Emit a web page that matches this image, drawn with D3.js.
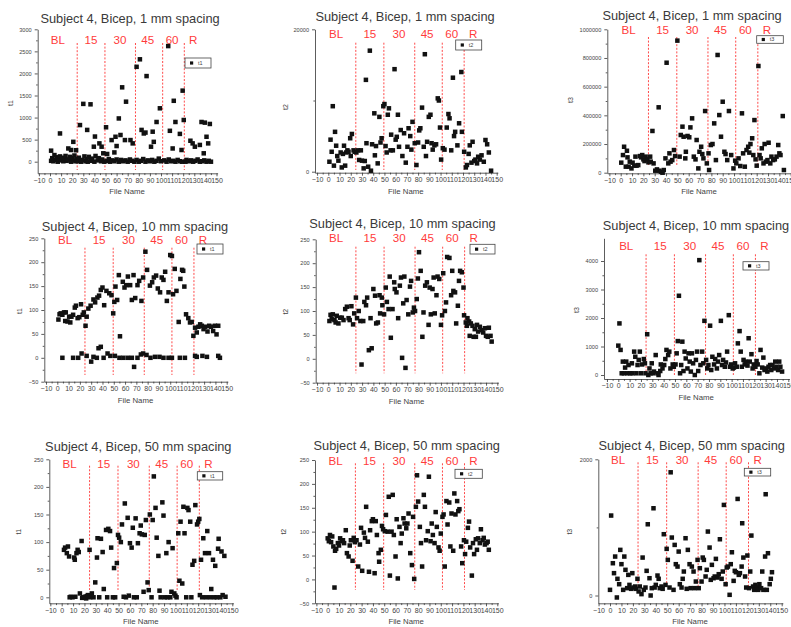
<!DOCTYPE html>
<html>
<head>
<meta charset="utf-8">
<script src="https://cdn.jsdelivr.net/npm/d3@7"></script>
<style>
  html, body { margin: 0; padding: 0; background: #fff; }
  svg { display: block; font-family: "Liberation Sans", Arial, sans-serif; }
</style>
</head>
<body>
<svg id="chart" width="791" height="627"></svg>
<script>
// Subject 4, bicep - t1 / t2 / t3 per file, for three electrode spacings
const spacings = ['1 mm', '10 mm', '50 mm'];
const measures = ['t1', 't2', 't3'];
const phaseNames = ['BL', '15', '30', '45', '60', 'R'];
const phaseCentres = [7, 37, 63, 88, 110, 129];
const phaseBounds = [24.5, 49.5, 77, 101.5, 121];
const xTicks = [-10, 0, 10, 20, 30, 40, 50, 60, 70, 80, 90, 100, 110, 120, 130, 140, 150];

const yTicks1mmT1 = [0, 500, 1000, 1500, 2000, 2500, 3000];
const yTicks1mmT2 = [0, 20000];
const yTicks1mmT3 = [0, 200000, 400000, 600000, 800000, 1000000];
const yTicks10mmT1 = [-50, 0, 50, 100, 150, 200, 250];
const yTicks10mmT2 = [-50, 0, 50, 100, 150, 200, 250];
const yTicks10mmT3 = [0, 1000, 2000, 3000, 4000];
const yTicks50mmT1 = [0, 50, 100, 150, 200, 250];
const yTicks50mmT2 = [-50, 0, 50, 100, 150, 200, 250];
const yTicks50mmT3 = [0, 2000];

// [file number, value]
const t1_1mm = [[1,20],[1,250],[2,80],[3,10],[4,150],[5,40],[6,100],[7,0],[8,60],[9,640],[9,120],[10,30],[11,90],[12,10],[13,70],[14,130],[15,20],[16,50],[16.5,300],[18,110],[19,265],[19,0],[20,80],[21,450],[21,30],[22,140],[23,10],[23.5,260],[24,60],
  [25,10],[26,90],[27,830],[28,0],[29,40],[30,1310],[31,120],[32,10],[33,60],[33.5,720],[34,0],[35,110],[36.5,1300],[37,20],[38,70],[39.5,340],[40,0],[40.5,570],[41,130],[43,30],[44,80],[44.5,415],[46,10],[46.5,340],[47,50],[48,190],[49,0],
  [50.5,780],[51,20],[51.5,175],[53,60],[54,0],[55.5,490],[56,30],[58,210],[58,10],[59,565],[60,355],[60,50],[62,980],[62,0],[63.5,605],[64,40],[65,1685],[66,10],[67.5,490],[68,30],[68.5,1360],[70,0],[72,50],[72.5,490],[74,20],[74.5,415],[76,0],
  [78,2150],[78,40],[80,0],[81,2320],[82,20],[82.5,720],[84,60],[84.5,640],[86,660],[86,0],[87,1940],[88,30],[90,10],[91,340],[92,40],[92.5,680],[93.5,450],[94,0],[96,900],[96,20],[98,70],[99,1210],[100,10],
  [103,30],[105,0],[106.5,2620],[107,50],[108,700],[109,10],[110.5,300],[111,20],[111.5,1380],[113,900],[113,0],[115,40],[117,630],[117,10],[118.5,265],[119,0],[119.5,1610],[120.5,945],
  [122,0],[123,40],[125,10],[126.5,475],[127,30],[128.5,415],[129,0],[130.5,340],[131,20],[133,50],[135,380],[135,0],[136.5,900],[137,10],[138.5,190],[139,30],[139.5,885],[141,565],[141,0],[142.5,415],[143,20],[144,855],[145,0]];

const t2_1mm = [[1,1400],[2,4500],[3,2800],[4,9200],[5,850],[6,5600],[7,3650],[8,2200],[9,1550],[11,2700],[12,600],[13,2500],[14,3650],[15,850],[16,2700],[17,3000],[18,2800],[19.5,4700],[20,2200],[21,5300],[22.5,3000],[23.5,2800],[25,2700],[26.5,3000],[27.5,1650],[29,3000],[30,1550],[31.5,470],[32.5,1500],[33.5,12900],[34,4000],[35.5,700],[37,17000],[38,140],[39,3850],[41,8200],[41.5,2300],[42.5,3600],[44,1170],[45.5,7700],[46.5,4100],[47.5,4700],[49,9200],[50,9500],
  [51,3600],[52,2700],[53,8000],[54,8900],[55.5,3000],[56,5200],[57.5,3000],[59,14400],[60,4500],[61,4900],[62,8000],[63,3500],[64.5,5850],[66,2200],[67.5,5400],[69,1270],[70.5,3500],[71.5,6100],[73,5000],[74,3100],[75,7000],[77,4000],
  [78.5,940],[80,4100],[81,5800],[82,6100],[83.5,9000],[85,3500],[86,16500],[87,2200],[88,4200],[89.5,7700],[91,8000],[92,4000],[93,3100],[94.5,3700],[96,3850],[97.5,10300],[98.5,10000],[99.5,6200],[100.5,1700],
  [102,3300],[103.5,3100],[105.5,6200],[107,8100],[108,7500],[109.5,3000],[111,13200],[112,5000],[113,5600],[115,3700],[116.5,6800],[118.5,14000],[119,5600],
  [121,2800],[122.5,600],[123.5,940],[125,2500],[126,3700],[127.5,1270],[128.5,4200],[130,1500],[131,1700],[132.5,1170],[133.5,2100],[135,1700],[136.5,2300],[138.5,1400],[140,4450],[141.5,3850],[143,2700],[145,140]];

const t3_1mm = [[0.5,70000],[2,123000],[3,181000],[4.5,42000],[5.5,153000],[6,107000],[7,42000],[8,77000],[9.5,30000],[10.5,70000],[12,49000],[13,112000],[14,49000],[15.5,53000],[17,116000],[18,107000],[19,123000],[20,93000],[21,81000],[22,112000],[23.5,93000],[24.5,72000],
  [26,112000],[26.5,77000],[28,291000],[29,65000],[30.5,14000],[32,23000],[33.5,456000],[34,14000],[35.5,7000],[37,0],[38,18600],[39.5,100000],[40.5,767000],[42,65000],[43,135000],[44,77000],[45.5,88000],[47,158000],[48,116000],
  [50,921000],[52,112000],[53,263000],[54.5,321000],[55.5,251000],[57,100000],[57.5,146000],[59,256000],[60.5,247000],[61.5,316000],[63,379000],[64.5,112000],[66,93000],[67,228000],[68.5,30000],[69.5,146000],[71,181000],[72,130000],[73,100000],[74.5,430000],[76,65000],
  [77.5,135000],[78,18600],[79.5,193000],[81,200000],[82.5,344000],[84,88000],[85.5,821000],[87,402000],[88.5,251000],[90,495000],[91.5,146000],[92.5,130000],[94,88000],[95.5,430000],[97.5,123000],[99.5,30000],[101,84000],
  [102,65000],[104,100000],[105.5,46500],[107,414000],[108,135000],[109.5,42000],[111,158000],[112.5,181000],[113.5,140000],[114.5,200000],[116,240000],[117,123000],[118,367000],[119,93000],[120,49000],
  [121.5,744000],[122.5,123000],[123.5,100000],[124.5,170000],[126,65000],[127,200000],[128,77000],[129.5,88000],[130.5,209000],[132,65000],[133,112000],[134.5,88000],[136,93000],[137.5,112000],[139,193000],[140,135000],[141,123000],[143,395000],[144,18600]];

const t1_10mm = [[1,80],[2,91],[3,93],[4.5,90],[4.5,0],[6,95],[7,77],[7.5,95],[9,76],[10.5,86],[11.5,74],[12.5,86],[14,90],[14,0],[15.5,105],[16.5,109],[18,83],[18.5,0],[19.5,85],[21,112],[21.5,9],[22.5,90],[23.5,95],[25,67],
  [26,86],[26,4],[27.5,103],[29.5,109],[30,-8],[32,122],[32,2],[33.5,116],[35,0],[35.5,126],[36.5,20],[37,130],[38.5,23],[38.5,142],[40,147],[41,0],[41.5,110],[43.5,140],[44.5,9],[46,135],[47,4],[48,131],[49.5,93],
  [50.5,117],[51,4],[51.5,149],[53,121],[54.5,173],[55,0],[55.5,45],[58,159],[58.5,0],[59.5,147],[61,152],[62.5,170],[62.5,0],[64.5,152],[66,121],[66,0],[67.5,173],[68,-19],[69,125],[71,152],[71,0],[72.5,161],[74,7],[74.5,119],[76,168],[76,9],
  [78,222],[79,6],[79.5,184],[82,151],[82.5,0],[84,158],[85.5,168],[86.5,2],[87.5,172],[89,145],[90.5,2],[91,137],[92.5,168],[94,163],[94,0],[95.5,180],[97,119],[98.5,137],[98.5,0],[100,215],
  [101.5,213],[101.5,0],[102.5,133],[104,186],[105.5,140],[107.5,75],[108.5,0],[109,165],[110.5,184],[111.5,182],[112.5,149],[113,0],[114,91],[116,83],[117.5,74],[119,75],
  [120.5,46],[122,63],[122,4],[123.5,53],[123.5,2],[125,65],[126.5,70],[128,67],[128.5,4],[129.5,60],[131,65],[132.5,2],[133,55],[134.5,67],[136,65],[138,56],[139.5,67],[141,49],[142.5,67],[142.5,4],[144,0]];

const t2_10mm = [[1,79],[2,92],[3,83],[4,93],[5.5,81],[6.5,76],[7.5,90],[9,74],[10.5,86],[12,86],[13.5,81],[15,104],[16.5,109],[18,85],[19,81],[20.5,110],[22,72],[23,95],[24.5,128],
  [25.5,85],[27,100],[28.5,79],[29.5,-12],[31,79],[32,119],[33.5,112],[34.5,128],[36,18],[37.5,85],[38.5,22],[40,146],[41.5,132],[42.5,74],[44,76],[45.5,133],[46,95],[47.5,128],[48,112],[49.5,93],
  [51,149],[52,119],[53.5,104],[54.5,172],[55.5,44],[57,104],[58.5,160],[59,146],[60.5,139],[62,85],[63.5,153],[64.5,170],[65.5,2],[66.5,116],[67.5,172],[68.5,-19],[69.5,123],[71,93],[72.5,151],[73.5,163],[75,97],[76,107],
  [77,100],[78.5,125],[79.5,168],[80.5,223],[82,184],[83.5,46],[84.5,97],[86,153],[87.5,160],[89,71],[90,149],[91,93],[92.5,146],[93.5,170],[94.5,95],[96,133],[97,172],[98.5,167],[100,71],[101,91],
  [102,179],[103.5,100],[104.5,118],[105.5,213],[107.5,211],[109,133],[110,184],[111,142],[112.5,139],[113.5,74],[115,111],[116,163],[117,184],[118.5,181],[120,149],
  [120.5,91],[122,76],[123,69],[123.5,85],[125,78],[125.5,48],[126.5,74],[128,69],[129,46],[130,62],[131,46],[132,71],[133,57],[134.5,67],[136,60],[137.5,55],[139,64],[140,48],[141.5,46],[142.5,65],[144,48],[145,36]];

const t3_10mm = [[0,1030],[1,1810],[2,880],[3,60],[4,470],[5,60],[6,260],[7,470],[8,60],[9,350],[10.5,60],[12,410],[12.5,60],[14,820],[15,640],[16,60],[17,350],[18,530],[19,820],[20,60],[21,370],[22.5,560],[23.5,410],[24,60],
  [25.5,1430],[26.5,0],[27.5,230],[28.5,60],[29.5,410],[30.5,60],[31.5,120],[33,700],[34.5,60],[35.5,0],[37,140],[37.5,370],[39,230],[40.5,350],[41.5,560],[42.5,880],[44,700],[45,820],[46,230],[48,370],[49,290],
  [50.5,370],[51.5,760],[52.5,1190],[53.5,2780],[54.5,60],[55.5,350],[56.5,1170],[57.5,140],[58.5,820],[59.5,580],[61,230],[62,760],[63,470],[64,120],[65,760],[66,410],[67.5,0],[68.5,530],[69.5,820],[70.5,140],[71.5,4030],[72.5,350],[74,820],[75,410],
  [76,1900],[77.5,530],[78.5,230],[79.5,350],[81,1730],[82,175],[83,640],[84.5,370],[85.5,560],[87,230],[88,470],[89,700],[90.5,1900],[91.5,350],[92.5,530],[94,290],[95,440],[96,820],[97.5,2100],[98.5,290],[99.5,370],
  [101,230],[102,260],[103,410],[104.5,290],[105.5,1110],[107,1540],[108,820],[109,290],[110.5,530],[111.5,370],[112.5,470],[114,330],[115,1290],[116,470],[117.5,730],[118.5,230],[119.5,370],
  [121,290],[122,490],[123,370],[124.5,60],[125.5,880],[127,260],[128,610],[129,175],[130.5,230],[131.5,120],[132.5,290],[134,350],[135,175],[136,350],[137.5,230],[138.5,470],[139.5,290],[141,175],[142,470],[143,290],[144.5,120]];

const t1_50mm = [[2,86],[3,90],[4.5,80],[5.5,92],[6.5,74],[7,0],[8,1],[9.5,0],[11,72],[11.5,68],[12,1],[13,80],[14,86],[15,82],[16,7],[17.5,102],[18,-1],[19,0],[20.5,1],[21.5,-2],[22,2],[23,4],[24.5,86],
  [25,0],[26.5,7],[28,0],[29.5,27],[31,72],[31.5,107],[33,0],[34.5,106],[36,82],[37,15],[39,122],[40,0],[41,124],[42.5,120],[43.5,90],[45,0],[46,53],[47,0],[48.5,62],[49.5,113],
  [50.5,108],[52,100],[53,132],[54.5,1],[55.5,170],[56.5,0],[58,144],[59,3],[60,98],[61.5,90],[62.5,126],[63.5,0],[65,143],[66,0],[67,98],[68.5,116],[69.5,130],[70.5,114],[72,10],[73,113],[74,140],[75.5,27],[76.5,13],
  [77.5,150],[79,0],[80,140],[81,219],[82.5,162],[83.5,108],[85,75],[86,12],[87,0],[88.5,172],[89.5,148],[90.5,0],[92,80],[93,0],[94,100],[95.5,0],[96.5,10],[97.5,89],[99,7],[100,3],[101,0],
  [102.5,116],[103.5,30],[104.5,137],[106,25],[107,164],[108,116],[109.5,0],[110.5,162],[111.5,158],[113,137],[114,0],[115,59],[116.5,66],[117.5,167],[119,132],[120,137],
  [121,142],[121.5,4],[122.5,68],[123.5,0],[124.5,107],[126,80],[127,0],[128,120],[129.5,80],[130.5,0],[131.5,15],[133,68],[134,0],[135,57],[136.5,0],[137.5,88],[138,106],[139.5,0],[140.5,83],[141.5,4],[143,75],[144,1]];

const t2_50mm = [[0,86],[1,80],[2,93],[3,78],[4,90],[5,69],[6,-17],[6.5,60],[7.5,64],[9,76],[10,71],[11,86],[12.5,80],[13.5,82],[14.5,76],[16,103],[17,55],[18.5,48],[19.5,71],[20.5,82],[22,39],[23,87],[24,78],
  [25.5,82],[27,27],[28.5,73],[29.5,108],[30.5,18],[32,98],[33,87],[34,152],[35.5,79],[36.5,16],[37.5,103],[39,122],[40,126],[41.5,13],[42.5,122],[43.5,93],[45,55],[45.5,37],[47,62],[48,112],[49,105],
  [50.5,101],[51.5,135],[53,100],[54,173],[55,8],[56.5,100],[57.5,177],[58.5,93],[60,48],[61,126],[62,2],[63.5,110],[64.5,76],[65.5,96],[67,128],[68,117],[69.5,107],[70.5,117],[71.5,138],[73,55],[74.5,30],[75.5,131],[76.5,1],
  [78,152],[79,218],[80,163],[81.5,110],[82.5,76],[83.5,27],[85,177],[86,152],[87,82],[88.5,101],[89.5,215],[91,80],[92,117],[93,93],[94.5,76],[95.5,141],[96.5,110],[98,67],[99,60],[100,96],
  [101.5,131],[102.5,136],[103.5,27],[105,164],[106,115],[107.5,161],[108.5,69],[109.5,138],[111,60],[112,180],[113,136],[114.5,164],[115.5,143],[116.5,147],[118,69],[119,34],
  [120.5,82],[121.5,53],[122.5,79],[124,108],[125,121],[126,67],[127.5,8],[128.5,76],[129.5,53],[131,84],[132,62],[133,86],[134.5,76],[135.5,105],[137,82],[138,87],[139,73],[140.5,76],[141.5,79],[142.5,62]];

const t3_50mm = [[0,83],[1,1174],[2.5,474],[3.5,328],[4.5,572],[6,-29],[6.5,245],[8,166],[9,670],[10,460],[11.5,83],[12.5,572],[13.5,377],[15,108],[16,303],[17,156],[18.5,98],[19.5,328],[20.5,117],[22,132],[22.5,98],[24,245],
  [25,59],[26,132],[27.5,20],[28.5,557],[29.5,83],[31,117],[32,362],[33,1046],[34.5,254],[35.5,0],[36.5,108],[38,1281],[39,117],[40,156],[41.5,293],[42.5,245],[43.5,108],[45,132],[46,98],[47,900],
  [48.5,156],[49.5,685],[50.5,523],[52,117],[53,1809],[54,851],[55.5,83],[56.5,743],[57.5,460],[59,425],[60,645],[61,166],[62.5,117],[63.5,245],[64.5,352],[66,841],[67,98],[68,670],[69.5,460],[70.5,108],[71.5,425],[73,352],[74,108],[75,205],
  [76.5,523],[77.5,108],[78.5,401],[80,205],[81,557],[82,523],[83.5,279],[84.5,377],[85.5,939],[87,704],[88,230],[89,450],[90.5,254],[91.5,279],[92.5,538],[94,264],[95,313],[96,826],[97.5,245],[98.5,352],
  [99.5,1330],[101,166],[102,411],[103,425],[104.5,10],[105.5,460],[106.5,635],[108,215],[109,362],[110,342],[111.5,1418],[112.5,303],[113.5,328],[115,425],[115.5,1061],[116.5,557],[118,279],[119,117],
  [120,587],[121.5,108],[122.5,352],[123.5,880],[125,132],[126,83],[127,156],[128.5,117],[129.5,83],[130.5,166],[132,108],[133,352],[134,83],[135.5,572],[136,1487],[137,83],[138,621],[139.5,166],[140.5,245],[141.5,342]];

const panels = [
  {data: t1_1mm,  ticks: yTicks1mmT1,  row: 0, col: 0, ox: 37.7,  x0: 50,    x150: 216.5, yA: [3000, 29.3],    yB: [0, 161.7],   top: 29.3,  bottom: 173.3, title: [130, 18.3],   phaseY: 40,    lines: [43, 170],      legend: [185, 58, 26, 10],      yLab: [10, 103]},
  {data: t2_1mm,  ticks: yTicks1mmT2,  row: 0, col: 1, ox: 315,   x0: 328.3, x150: 496.7, yA: [20000, 29.3],   yB: [0, 171.7],   top: 29.3,  bottom: 172.7, title: [405, 16.7],   phaseY: 33.3,  lines: [42.7, 170],    legend: [455.7, 40, 26, 10],    yLab: [285, 107]},
  {data: t3_1mm,  ticks: yTicks1mmT3,  row: 0, col: 2, ox: 607.3, x0: 620.7, x150: 790.7, yA: [1000000, 29.3], yB: [0, 172.7],   top: 29.3,  bottom: 173.3, title: [692, 15.5],   phaseY: 30,    lines: [37, 165],      legend: [756.7, 35.7, 26.6, 7.6], yLab: [570, 100]},
  {data: t1_10mm, ticks: yTicks10mmT1, row: 1, col: 0, ox: 44.3,  x0: 57.3,  x150: 226.7, yA: [250, 238.3],    yB: [-50, 381.7], top: 238.3, bottom: 381.7, title: [135, 226],    phaseY: 240,   lines: [247.7, 375],   legend: [197, 244, 26, 10],     yLab: [19, 311]},
  {data: t2_10mm, ticks: yTicks10mmT2, row: 1, col: 1, ox: 315.7, x0: 328.3, x150: 497.3, yA: [250, 239.3],    yB: [-50, 382.7], top: 239.3, bottom: 382.7, title: [402.5, 223.3], phaseY: 237.8, lines: [246.7, 373.3], legend: [470, 244.3, 25, 9.7],  yLab: [285.7, 311.7]},
  {data: t3_10mm, ticks: yTicks10mmT3, row: 1, col: 2, ox: 604,   x0: 618.3, x150: 788.3, yA: [4000, 261],     yB: [0, 375],     top: 238.3, bottom: 379,   title: [696, 225],    phaseY: 245.7, lines: [254.3, 375],   legend: [743, 261.7, 26, 8.3],  yLab: [576.7, 310]},
  {data: t1_50mm, ticks: yTicks50mmT1, row: 2, col: 0, ox: 49.3,  x0: 61.7,  x150: 232.3, yA: [250, 459.3],    yB: [0, 597.3],   top: 459.3, bottom: 603.3, title: [138.3, 446.7], phaseY: 463.3, lines: [465.7, 590],   legend: [197.3, 471.7, 25.4, 8.3], yLab: [18.3, 531.7]},
  {data: t2_50mm, ticks: yTicks50mmT2, row: 2, col: 1, ox: 315,   x0: 327.7, x150: 497.3, yA: [250, 460],      yB: [-50, 603.3], top: 460,   bottom: 603.3, title: [406.7, 445.7], phaseY: 460.7, lines: [463.3, 590],   legend: [455, 469.3, 27.3, 9],  yLab: [283.3, 531.7]},
  {data: t3_50mm, ticks: yTicks50mmT3, row: 2, col: 2, ox: 598.3, x0: 610,   x150: 781.7, yA: [2000, 459.3],   yB: [0, 595.5],   top: 459.3, bottom: 603.3, title: [691.7, 445.7], phaseY: 460,   lines: [462.3, 588.3], legend: [744.3, 468.3, 26.4, 7.7], yLab: [569.3, 531.7]}
];

const svg = d3.select('#chart');
const mid = ([a, b]) => (a + b) / 2;
const xMinor = d3.pairs(xTicks).map(mid);

panels.forEach(p => {
  const g = svg.append('g');
  const name = measures[p.col];

  // x: file number, y: measure (two reference ticks give the pixel mapping)
  const xRef = d3.scaleLinear().domain([0, 150]).range([p.x0, p.x150]);
  const x = d3.scaleLinear().domain([xRef.invert(p.ox), 151]).range([p.ox, xRef(151)]);
  const yRef = d3.scaleLinear().domain([p.yA[0], p.yB[0]]).range([p.yA[1], p.yB[1]]);
  const y = d3.scaleLinear().domain([yRef.invert(p.bottom), yRef.invert(p.top)]).range([p.bottom, p.top]);

  // title
  g.append('text')
    .attr('x', p.title[0]).attr('y', p.title[1] + 4.6)
    .attr('text-anchor', 'middle')
    .attr('font-size', 12.8).attr('fill', '#3a3a3a')
    .text(`Subject 4, Bicep, ${spacings[p.row]} spacing`);

  // phase dividers and labels
  g.selectAll('.divider').data(phaseBounds).enter().append('line')
    .attr('x1', d => x(d)).attr('x2', d => x(d))
    .attr('y1', p.lines[0]).attr('y2', p.lines[1])
    .attr('stroke', '#ff4a4a').attr('stroke-width', 1)
    .attr('stroke-dasharray', '2,1.6');

  g.selectAll('.phase').data(phaseNames).enter().append('text')
    .attr('x', (d, i) => x(phaseCentres[i]))
    .attr('y', p.phaseY + 4.2)
    .attr('text-anchor', 'middle')
    .attr('font-size', 11.6).attr('fill', '#ff3b3b')
    .text(d => d);

  // y axis
  const yMinor = d3.pairs(p.ticks).map(mid);
  const yAxis = g.append('g').attr('transform', `translate(${p.ox},0)`)
    .call(d3.axisLeft(y).tickValues(p.ticks).tickSize(3).tickSizeOuter(0).tickPadding(3).tickFormat(d3.format('d')));
  g.append('g').attr('transform', `translate(${p.ox},0)`)
    .call(d3.axisLeft(y).tickValues(yMinor).tickSize(1.6).tickSizeOuter(0).tickFormat(''))
    .select('.domain').remove();
  yAxis.selectAll('text').attr('font-size', 5.6).attr('fill', '#444');

  // x axis
  const xAxis = g.append('g').attr('transform', `translate(0,${p.bottom})`)
    .call(d3.axisBottom(x).tickValues(xTicks).tickSize(3).tickSizeOuter(0).tickPadding(1.5).tickFormat(d3.format('d')));
  g.append('g').attr('transform', `translate(0,${p.bottom})`)
    .call(d3.axisBottom(x).tickValues(xMinor).tickSize(1.8).tickSizeOuter(0).tickFormat(''))
    .select('.domain').remove();
  xAxis.selectAll('text').attr('font-size', 7).attr('fill', '#444');

  g.selectAll('.domain, .tick line').attr('stroke', '#333').attr('stroke-width', 0.8);

  // axis titles
  g.append('text')
    .attr('x', (p.ox + xRef(150)) / 2).attr('y', p.bottom + 20.8)
    .attr('text-anchor', 'middle')
    .attr('font-size', 7.8).attr('fill', '#444')
    .text('File Name');

  g.append('text')
    .attr('transform', `translate(${p.yLab[0] + 2.5},${p.yLab[1]}) rotate(-90)`)
    .attr('text-anchor', 'middle')
    .attr('font-size', 7).attr('fill', '#444')
    .text(name);

  // points
  g.selectAll('.pt').data(p.data).enter().append('rect')
    .attr('x', d => x(d[0]) - 2.25)
    .attr('y', d => y(d[1]) - 2.25)
    .attr('width', 4.5).attr('height', 4.5)
    .attr('fill', '#111');

  // legend
  const [lx, ly, lw, lh] = p.legend;
  const leg = g.append('g').attr('transform', `translate(${lx},${ly})`);
  leg.append('rect').attr('width', lw).attr('height', lh)
    .attr('fill', '#fff').attr('stroke', '#444').attr('stroke-width', 0.8);
  leg.append('rect').attr('x', 5).attr('y', lh / 2 - 1.6)
    .attr('width', 3.2).attr('height', 3.2).attr('fill', '#111');
  leg.append('text').attr('x', 13).attr('y', lh / 2 + 1.9)
    .attr('font-size', 5.5).attr('fill', '#444')
    .text(name);
});
</script>
</body>
</html>
